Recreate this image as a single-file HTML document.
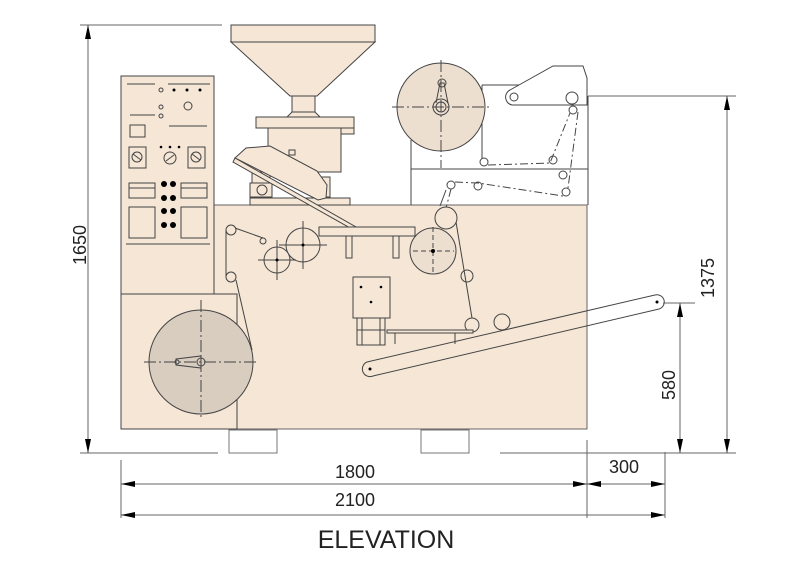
<!DOCTYPE html>
<html><head><meta charset="utf-8"><style>
html,body{margin:0;padding:0;background:#fff;width:800px;height:578px;overflow:hidden}
svg{display:block}
text{font-family:"Liberation Sans",sans-serif;fill:#222}
</style></head><body>
<svg width="800" height="578" viewBox="0 0 800 578" xmlns="http://www.w3.org/2000/svg">
<defs>
<marker id="a" viewBox="0 0 14 6" refX="14" refY="3" markerWidth="14" markerHeight="6" orient="auto-start-reverse" markerUnits="userSpaceOnUse"><path d="M0,0L14,3L0,6z" fill="#000"/></marker>
</defs>
<g stroke="#444" stroke-width="1" fill="#f5e6d6">
<rect x="121" y="205" width="466" height="224" stroke="#666"/>
<rect x="121" y="76" width="93" height="220"/>
<rect x="121" y="294" width="116" height="135"/>
<rect x="229" y="430" width="48" height="23" fill="#fff" stroke="#777"/>
<rect x="421" y="430" width="48" height="23" fill="#fff" stroke="#777"/>
<rect x="231" y="25" width="144" height="17"/>
<path d="M231,42L375,42L317,96L290,96Z"/>
<rect x="292" y="96" width="23" height="16"/>
<path d="M292,112L315,112L320,117L287,117Z"/>
<rect x="256" y="117" width="98" height="11"/>
<rect x="341" y="128" width="13" height="6"/>
<rect x="268" y="128" width="73" height="44"/>
<rect x="252" y="172" width="18" height="33"/>
<rect x="250" y="183" width="22" height="14"/>
<circle cx="262" cy="190" r="5"/>
<rect x="250" y="198" width="100" height="7"/>
<rect x="320" y="177" width="10" height="20"/>
<path d="M235,158L246,148L270,146L317,171L327,185L326,198L318,200Z"/>
<path d="M235,158L356,227L352,229L233,162Z"/>
<rect x="289" y="150" width="6" height="5"/>
</g>
<g stroke="#444" stroke-width="1" fill="none">
<path d="M127,84H155M168,84H210M130,115H155M169,126H207M126,244H210"/>
<circle cx="161" cy="90" r="2"/><circle cx="161" cy="107" r="2"/><circle cx="161" cy="116" r="2"/>
<circle cx="188" cy="106" r="4"/>
<rect x="130" y="125" width="15" height="12"/>
<rect x="129" y="147" width="17" height="21"/><rect x="188" y="147" width="17" height="21"/>
<circle cx="137" cy="157" r="5"/><circle cx="196" cy="157" r="5"/><circle cx="170" cy="158" r="6"/>
<path d="M133,154L141,160M192,154L200,160M166,161L174,155"/>
<rect x="129" y="183" width="26" height="15"/><rect x="181" y="183" width="26" height="15"/>
<path d="M129,188H155M181,188H207"/>
<rect x="129" y="207" width="26" height="31"/><rect x="181" y="207" width="26" height="31"/>
</g>
<g fill="#000">
<circle cx="174" cy="90" r="1.5"/><circle cx="187" cy="90" r="1.5"/><circle cx="200" cy="90" r="1.5"/>
<circle cx="161" cy="147" r="1.3"/><circle cx="170" cy="147" r="1.3"/><circle cx="179" cy="147" r="1.3"/>
<circle cx="164" cy="184" r="3"/><circle cx="173" cy="184" r="3"/>
<circle cx="164" cy="198" r="3"/><circle cx="173" cy="198" r="3"/>
<circle cx="164" cy="211" r="3"/><circle cx="173" cy="211" r="3"/>
<circle cx="164" cy="225" r="3"/><circle cx="173" cy="225" r="3"/>
</g>
<g stroke="#444" stroke-width="1" fill="none">
<path d="M411,140V205M411,169H588M588,96V205M482,85V160M482,85H520"/>
<path d="M510,90L553,66L583,66L587,78L587,105L512,105A8,8 0 0 1 510,90Z" fill="#fff"/>
<circle cx="514" cy="97" r="4"/>
<circle cx="441" cy="107" r="44" fill="#ecdfd0"/>
<path d="M436,103L440,83L444,83L448,103" /><circle cx="442" cy="83" r="4"/>
<circle cx="441" cy="107" r="8"/><circle cx="441" cy="107" r="5"/>
<path d="M392,107H490M441,60V168" stroke-dasharray="12,3,2,3"/>
<circle cx="572" cy="98" r="6" fill="#fff"/><circle cx="573" cy="110" r="4" fill="#fff"/>
<circle cx="484" cy="162" r="4" fill="#fff"/><circle cx="553" cy="160" r="4" fill="#fff"/>
<circle cx="563" cy="175" r="4" fill="#fff"/><circle cx="566" cy="192" r="4" fill="#fff"/>
<circle cx="451" cy="185" r="4" fill="#fff"/><circle cx="478" cy="186" r="4" fill="#fff"/>
<path d="M488,165L550,163L570,113M578,112L568,188M455,182L478,183L563,196M451,189L445,212" stroke-dasharray="8,3,2,3"/>
</g>
<g stroke="#444" stroke-width="1" fill="#f5e6d6">
<rect x="319" y="227" width="96" height="9"/>
<rect x="346" y="236" width="6" height="22"/><rect x="393" y="236" width="6" height="22"/>
<circle cx="303" cy="245" r="17"/>
<circle cx="277" cy="260" r="13"/>
<circle cx="231" cy="230" r="5"/><circle cx="263" cy="241" r="3"/><circle cx="231" cy="277" r="5"/>
<circle cx="446" cy="218" r="11"/>
<circle cx="433" cy="251" r="23" fill="#ecdfd0"/>
<circle cx="467" cy="276" r="6"/><circle cx="472" cy="325" r="7"/><circle cx="502" cy="322" r="8"/>
<rect x="353" y="277" width="37" height="41"/>
<rect x="357" y="318" width="28" height="27"/>
<path d="M357,330H385M362,318V345M380,318V345" fill="none"/>
<rect x="387" y="330" width="86" height="3"/>
<path d="M395,333V344M455,333V344" fill="none"/>
<circle cx="201" cy="362" r="52" fill="#d9cdc0"/>
<path d="M367,362L655,295A7,7 0 0 1 659,309L373,376A7,7 0 0 1 367,362Z" fill="none"/>
</g>
<g stroke="#444" stroke-width="1" fill="none">
<path d="M235,228L263,238M226,230V277M236,280L252,350M456,222L472,318M440,206L446,190"/>
<path d="M279,245H327M303,221V269M258,260H296M277,240V280" />
<path d="M413,251H454M433,227V275" stroke-dasharray="5,3"/>
<path d="M144,362H258M201,300V420" stroke-dasharray="12,3,2,3"/>
<path d="M176,359L201,356L201,368L176,365Z"/><circle cx="201" cy="362" r="4"/><circle cx="177" cy="362" r="2"/>
</g>
<g fill="#000">
<circle cx="361" cy="287" r="1.3"/><circle cx="381" cy="287" r="1.3"/><circle cx="371" cy="302" r="1.3"/>
<circle cx="370" cy="369" r="1.5"/><circle cx="657" cy="302" r="1.5"/>
<circle cx="303" cy="245" r="1.5"/><circle cx="277" cy="260" r="1.5"/><circle cx="433" cy="251" r="2"/>
</g>
<g stroke="#666" stroke-width="1" fill="none">
<path d="M80,25H222M80,453H218M588,96H736M500,453H736M663,303H695"/>
<path d="M88,25V453" marker-start="url(#a)" marker-end="url(#a)"/>
<path d="M727,96V453" marker-start="url(#a)" marker-end="url(#a)"/>
<path d="M680,303V453" marker-start="url(#a)" marker-end="url(#a)"/>
<path d="M121,460V518M587,440V518M665,452V518"/>
<path d="M121,484H587" marker-start="url(#a)" marker-end="url(#a)"/>
<path d="M587,484H665" marker-start="url(#a)" marker-end="url(#a)"/>
<path d="M121,515H665" marker-start="url(#a)" marker-end="url(#a)"/>
</g>
<text x="0" y="0" font-size="18" text-anchor="middle" transform="translate(86,245) rotate(-90)">1650</text>
<text x="0" y="0" font-size="18" text-anchor="middle" transform="translate(714,278) rotate(-90)">1375</text>
<text x="0" y="0" font-size="18" text-anchor="middle" transform="translate(675,385) rotate(-90)">580</text>
<text x="355" y="478" font-size="18" text-anchor="middle">1800</text>
<text x="355" y="506" font-size="18" text-anchor="middle">2100</text>
<text x="624" y="473" font-size="18" text-anchor="middle">300</text>
<text x="386" y="548" font-size="25" text-anchor="middle">ELEVATION</text>
</svg>
</body></html>
